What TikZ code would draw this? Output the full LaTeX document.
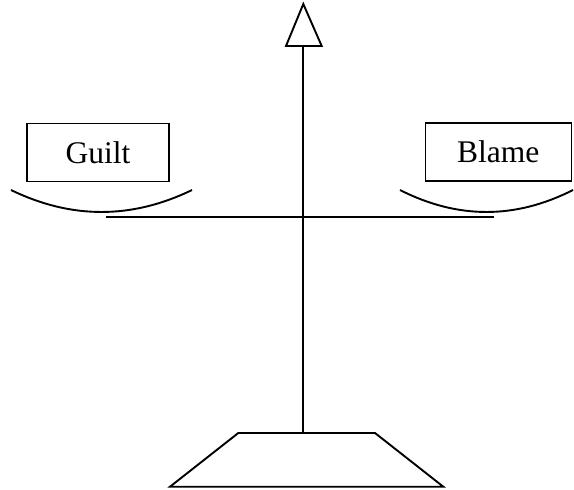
\documentclass[tikz,border=0pt]{standalone}
\usepackage{fontspec}
\setmainfont{Liberation Serif}
\usepackage{tikz}

\tikzset{
  line/.style={line width=1.9pt, line join=miter},
  panbox/.style={draw, line width=1.6pt, minimum width=142pt, minimum height=58pt,
                 inner sep=0pt, font=\fontsize{31.5}{36}\selectfont}
}

\begin{document}
\begin{tikzpicture}[x=1pt, y=-1pt]
\useasboundingbox (0,0) rectangle (574,490);

% Labels on the pans
\node[panbox] (guilt) at (98,152.5) {Guilt};
\node[panbox, minimum width=146pt] (blame) at (498.3,152) {Blame};

% Post and arrow head
\coordinate (tip) at (303.3,4);
\coordinate (headl) at (286,46);
\coordinate (headr) at (321.7,46);
\coordinate (headbase) at (303.3,46);
\coordinate (foot) at (303.3,433);
\draw[line] (tip) -- (headl) -- (headr) -- cycle;
\draw[line] (headbase) -- (foot);

% Beam
\coordinate (beaml) at (106,217.3);
\coordinate (beamr) at (494,217.3);
\draw[line] (beaml) -- (beamr);

% Pans
\draw[line] (11,190) .. controls (71.3,219.3) and (131.7,219.3) .. (192,190);
\draw[line] (400,190) .. controls (457.7,219.3) and (515.3,219.3) .. (573,190);

% Base
\draw[line] (238.3,433) -- (375,433) -- (443.3,486.7) -- (170,486.7) -- cycle;

\end{tikzpicture}
\end{document}
